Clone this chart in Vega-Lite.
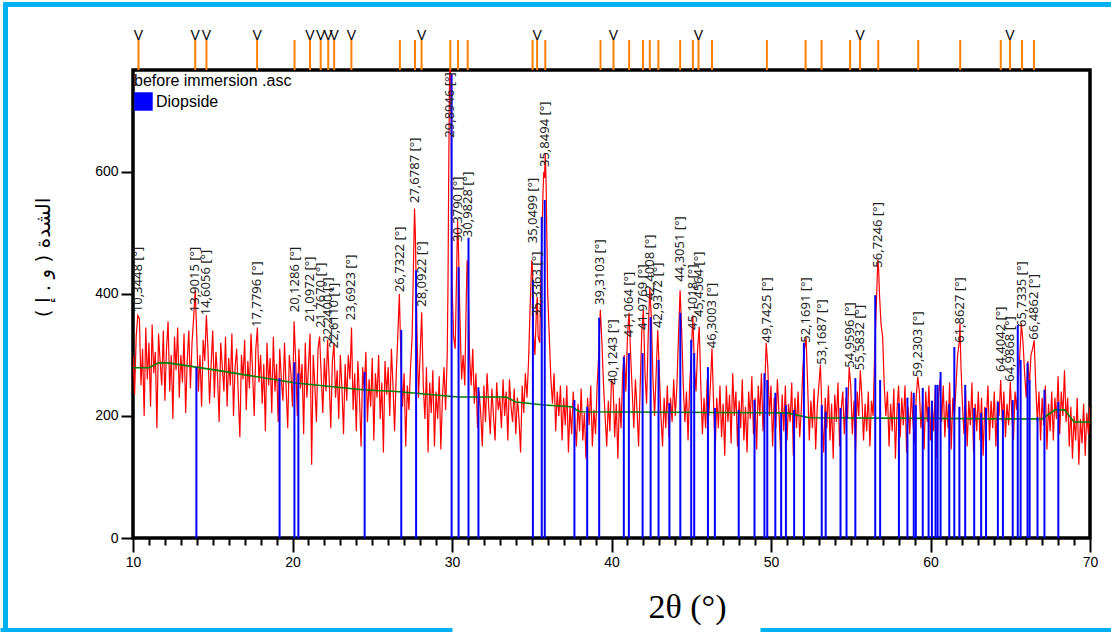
{
"$schema": "https://vega.github.io/schema/vega-lite/v6.json",
"autosize": {"type": "none"},
"padding": {"left": 133, "top": 70, "right": 21, "bottom": 94},
"background": "#ffffff",
"width": 957, "height": 468,
"config": {"view": {"stroke": "#000000", "strokeWidth": 3.5}},
"resolve": {"scale": {"x": "independent", "y": "independent"}},
"datasets": {
"frame": [{"f": 0}, {"f": 1}],
"bg": [{"t":10,"i":279},{"t":11,"i":279},{"t":11.6,"i":287},{"t":12.2,"i":287},{"t":15,"i":276},{"t":20.2,"i":254},{"t":24.4,"i":243},{"t":26.5,"i":240},{"t":30.4,"i":231},{"t":33.4,"i":231},{"t":34,"i":223},{"t":35.8,"i":218},{"t":37.5,"i":215},{"t":38,"i":207},{"t":51,"i":205},{"t":52.4,"i":197},{"t":67,"i":195},{"t":67.8,"i":210},{"t":68.4,"i":210},{"t":69,"i":190},{"t":70,"i":190}],
"sticks": [{"t":13.70,"i":280,"ph":"Diopside"},{"t":18.97,"i":262,"ph":"Diopside"},{"t":19.91,"i":288,"ph":"Diopside"},{"t":20.16,"i":270,"ph":"Diopside"},{"t":24.36,"i":272,"ph":"Diopside"},{"t":26.68,"i":341,"ph":"Diopside"},{"t":27.62,"i":439,"ph":"Diopside"},{"t":29.87,"i":760,"ph":"Diopside"},{"t":30.31,"i":444,"ph":"Diopside"},{"t":30.94,"i":492,"ph":"Diopside"},{"t":31.57,"i":247,"ph":"Diopside"},{"t":35.02,"i":423,"ph":"Diopside"},{"t":35.58,"i":526,"ph":"Diopside"},{"t":35.77,"i":554,"ph":"Diopside"},{"t":37.65,"i":226,"ph":"Diopside"},{"t":38.46,"i":215,"ph":"Diopside"},{"t":39.22,"i":361,"ph":"Diopside"},{"t":40.78,"i":297,"ph":"Diopside"},{"t":41.10,"i":303,"ph":"Diopside"},{"t":41.97,"i":303,"ph":"Diopside"},{"t":42.48,"i":362,"ph":"Diopside"},{"t":42.98,"i":292,"ph":"Diopside"},{"t":43.67,"i":221,"ph":"Diopside"},{"t":44.36,"i":369,"ph":"Diopside"},{"t":45.05,"i":325,"ph":"Diopside"},{"t":45.24,"i":303,"ph":"Diopside"},{"t":46.11,"i":280,"ph":"Diopside"},{"t":46.55,"i":213,"ph":"Diopside"},{"t":48.06,"i":210,"ph":"Diopside"},{"t":49.06,"i":226,"ph":"Diopside"},{"t":49.69,"i":270,"ph":"Diopside"},{"t":49.87,"i":259,"ph":"Diopside"},{"t":50.38,"i":238,"ph":"Diopside"},{"t":50.75,"i":205,"ph":"Diopside"},{"t":51.05,"i":218,"ph":"Diopside"},{"t":51.57,"i":210,"ph":"Diopside"},{"t":52.19,"i":320,"ph":"Diopside"},{"t":53.32,"i":218,"ph":"Diopside"},{"t":53.57,"i":207,"ph":"Diopside"},{"t":54.51,"i":213,"ph":"Diopside"},{"t":54.89,"i":247,"ph":"Diopside"},{"t":55.45,"i":262,"ph":"Diopside"},{"t":56.71,"i":398,"ph":"Diopside"},{"t":57.02,"i":259,"ph":"Diopside"},{"t":58.21,"i":221,"ph":"Diopside"},{"t":58.75,"i":230,"ph":"Diopside"},{"t":59.15,"i":238,"ph":"Diopside"},{"t":59.28,"i":218,"ph":"Diopside"},{"t":59.72,"i":246,"ph":"Diopside"},{"t":60.09,"i":215,"ph":"Diopside"},{"t":60.30,"i":225,"ph":"Diopside"},{"t":60.53,"i":251,"ph":"Diopside"},{"t":60.66,"i":251,"ph":"Diopside"},{"t":60.85,"i":272,"ph":"Diopside"},{"t":61.40,"i":220,"ph":"Diopside"},{"t":61.72,"i":313,"ph":"Diopside"},{"t":62.04,"i":215,"ph":"Diopside"},{"t":62.41,"i":251,"ph":"Diopside"},{"t":62.98,"i":213,"ph":"Diopside"},{"t":63.42,"i":205,"ph":"Diopside"},{"t":63.73,"i":213,"ph":"Diopside"},{"t":64.48,"i":223,"ph":"Diopside"},{"t":64.80,"i":210,"ph":"Diopside"},{"t":65.42,"i":226,"ph":"Diopside"},{"t":65.74,"i":349,"ph":"Diopside"},{"t":65.92,"i":292,"ph":"Diopside"},{"t":66.36,"i":287,"ph":"Diopside"},{"t":66.49,"i":259,"ph":"Diopside"},{"t":66.99,"i":198,"ph":"Diopside"},{"t":67.43,"i":243,"ph":"Diopside"},{"t":68.31,"i":223,"ph":"Diopside"}],
"peaks": [{"t":10.3448,"i":370,"lab":"10,3448 [°]","v":1},{"t":13.9015,"i":370,"lab":"13,9015 [°]","v":1},{"t":14.6056,"i":365,"lab":"14,6056 [°]","v":1},{"t":17.7796,"i":346,"lab":"17,7796 [°]","v":1},{"t":20.1286,"i":370,"lab":"20,1286 [°]","v":0},{"t":21.0972,"i":354,"lab":"21,0972 [°]","v":1},{"t":21.7670,"i":344,"lab":"21,7670 [°]","v":1},{"t":22.2400,"i":320,"lab":"22,2400 [°]","v":1},{"t":22.6110,"i":311,"lab":"22,6110 [°]","v":1},{"t":23.6923,"i":357,"lab":"23,6923 [°]","v":1},{"t":26.7322,"i":403,"lab":"26,7322 [°]","v":0},{"t":27.6787,"i":549,"lab":"27,6787 [°]","v":0},{"t":28.0922,"i":379,"lab":"28,0922 [°]","v":1},{"t":29.8946,"i":656,"lab":"29,8946 [°]","v":0},{"t":30.3790,"i":485,"lab":"30,3790 [°]","v":0},{"t":30.9828,"i":493,"lab":"30,9828 [°]","v":0},{"t":35.0499,"i":483,"lab":"35,0499 [°]","v":0},{"t":35.3363,"i":362,"lab":"35,3363 [°]","v":1},{"t":35.8494,"i":608,"lab":"35,8494 [°]","v":0},{"t":39.3103,"i":382,"lab":"39,3103 [°]","v":0},{"t":40.1243,"i":251,"lab":"40,1243 [°]","v":1},{"t":41.1064,"i":329,"lab":"41,1064 [°]","v":0},{"t":41.9769,"i":341,"lab":"41,9769 [°]","v":0},{"t":42.4008,"i":390,"lab":"42,4008 [°]","v":0},{"t":42.9372,"i":344,"lab":"42,9372 [°]","v":0},{"t":44.3051,"i":420,"lab":"44,3051 [°]","v":0},{"t":45.1018,"i":341,"lab":"45,1018 [°]","v":0},{"t":45.4564,"i":362,"lab":"45,4564 [°]","v":1},{"t":46.3003,"i":311,"lab":"46,3003 [°]","v":0},{"t":49.7425,"i":320,"lab":"49,7425 [°]","v":0},{"t":52.1691,"i":320,"lab":"52,1691 [°]","v":0},{"t":53.1687,"i":284,"lab":"53,1687 [°]","v":0},{"t":54.9596,"i":279,"lab":"54,9596 [°]","v":0},{"t":55.5832,"i":275,"lab":"55,5832 [°]","v":1},{"t":56.7246,"i":443,"lab":"56,7246 [°]","v":0},{"t":59.2303,"i":264,"lab":"59,2303 [°]","v":0},{"t":61.8627,"i":320,"lab":"61,8627 [°]","v":0},{"t":64.4042,"i":272,"lab":"64,4042 [°]","v":0},{"t":64.9868,"i":256,"lab":"64,9868 [°]","v":1},{"t":65.7335,"i":346,"lab":"65,7335 [°]","v":0},{"t":66.4862,"i":325,"lab":"66,4862 [°]","v":0}],
"red": [
{"t":10.0,"i":300},{"t":10.1,"i":235},{"t":10.2,"i":330},{"t":10.3,"i":365},{"t":10.4,"i":360},{"t":10.5,"i":250},{"t":10.6,"i":310},{"t":10.7,"i":200},{"t":10.8,"i":345},{"t":10.9,"i":260},
{"t":11.0,"i":320},{"t":11.1,"i":215},{"t":11.2,"i":350},{"t":11.3,"i":270},{"t":11.4,"i":305},{"t":11.5,"i":180},{"t":11.6,"i":335},{"t":11.7,"i":290},{"t":11.8,"i":250},{"t":11.9,"i":340},
{"t":12.0,"i":225},{"t":12.1,"i":310},{"t":12.2,"i":355},{"t":12.3,"i":240},{"t":12.4,"i":300},{"t":12.5,"i":195},{"t":12.6,"i":330},{"t":12.7,"i":275},{"t":12.8,"i":345},{"t":12.9,"i":230},
{"t":13.0,"i":300},{"t":13.1,"i":255},{"t":13.2,"i":335},{"t":13.3,"i":205},{"t":13.4,"i":290},{"t":13.5,"i":340},{"t":13.6,"i":245},{"t":13.7,"i":320},{"t":13.8,"i":360},{"t":13.9,"i":406},
{"t":14.0,"i":330},{"t":14.1,"i":240},{"t":14.2,"i":300},{"t":14.3,"i":215},{"t":14.4,"i":325},{"t":14.5,"i":290},{"t":14.6,"i":365},{"t":14.7,"i":310},{"t":14.8,"i":220},{"t":14.9,"i":285},
{"t":15.0,"i":340},{"t":15.1,"i":230},{"t":15.2,"i":305},{"t":15.3,"i":265},{"t":15.4,"i":190},{"t":15.5,"i":320},{"t":15.6,"i":280},{"t":15.7,"i":240},{"t":15.8,"i":330},{"t":15.9,"i":215},
{"t":16.0,"i":295},{"t":16.1,"i":250},{"t":16.2,"i":335},{"t":16.3,"i":200},{"t":16.4,"i":280},{"t":16.5,"i":310},{"t":16.6,"i":235},{"t":16.7,"i":165},{"t":16.8,"i":300},{"t":16.9,"i":260},
{"t":17.0,"i":325},{"t":17.1,"i":210},{"t":17.2,"i":290},{"t":17.3,"i":245},{"t":17.4,"i":335},{"t":17.5,"i":270},{"t":17.6,"i":200},{"t":17.7,"i":310},{"t":17.8,"i":345},{"t":17.9,"i":255},
{"t":18.0,"i":300},{"t":18.1,"i":220},{"t":18.2,"i":285},{"t":18.3,"i":175},{"t":18.4,"i":320},{"t":18.5,"i":250},{"t":18.6,"i":295},{"t":18.7,"i":205},{"t":18.8,"i":330},{"t":18.9,"i":240},
{"t":19.0,"i":285},{"t":19.1,"i":190},{"t":19.2,"i":310},{"t":19.3,"i":260},{"t":19.4,"i":225},{"t":19.5,"i":320},{"t":19.6,"i":245},{"t":19.7,"i":180},{"t":19.8,"i":300},{"t":19.9,"i":270},
{"t":20.0,"i":215},{"t":20.1,"i":355},{"t":20.2,"i":290},{"t":20.3,"i":200},{"t":20.4,"i":310},{"t":20.5,"i":245},{"t":20.6,"i":285},{"t":20.7,"i":170},{"t":20.8,"i":320},{"t":20.9,"i":230},
{"t":21.0,"i":280},{"t":21.1,"i":335},{"t":21.2,"i":120},{"t":21.3,"i":300},{"t":21.4,"i":250},{"t":21.5,"i":190},{"t":21.6,"i":310},{"t":21.7,"i":330},{"t":21.8,"i":265},{"t":21.9,"i":205},
{"t":22.0,"i":295},{"t":22.1,"i":240},{"t":22.2,"i":325},{"t":22.3,"i":260},{"t":22.4,"i":180},{"t":22.5,"i":290},{"t":22.6,"i":320},{"t":22.7,"i":230},{"t":22.8,"i":275},{"t":22.9,"i":195},
{"t":23.0,"i":300},{"t":23.1,"i":245},{"t":23.2,"i":170},{"t":23.3,"i":285},{"t":23.4,"i":225},{"t":23.5,"i":300},{"t":23.6,"i":260},{"t":23.7,"i":345},{"t":23.8,"i":210},{"t":23.9,"i":270},
{"t":24.0,"i":175},{"t":24.1,"i":290},{"t":24.2,"i":230},{"t":24.3,"i":150},{"t":24.4,"i":280},{"t":24.5,"i":240},{"t":24.6,"i":305},{"t":24.7,"i":190},{"t":24.8,"i":260},{"t":24.9,"i":215},
{"t":25.0,"i":295},{"t":25.1,"i":160},{"t":25.2,"i":270},{"t":25.3,"i":230},{"t":25.4,"i":300},{"t":25.5,"i":195},{"t":25.6,"i":255},{"t":25.7,"i":140},{"t":25.8,"i":290},{"t":25.9,"i":235},
{"t":26.0,"i":280},{"t":26.1,"i":200},{"t":26.2,"i":310},{"t":26.3,"i":250},{"t":26.4,"i":175},{"t":26.5,"i":265},{"t":26.6,"i":330},{"t":26.7,"i":400},{"t":26.8,"i":290},{"t":26.9,"i":215},
{"t":27.0,"i":270},{"t":27.1,"i":150},{"t":27.2,"i":250},{"t":27.3,"i":210},{"t":27.4,"i":280},{"t":27.5,"i":330},{"t":27.6,"i":470},{"t":27.65,"i":540},{"t":27.7,"i":500},{"t":27.8,"i":340},{"t":27.9,"i":230},
{"t":28.0,"i":300},{"t":28.1,"i":370},{"t":28.2,"i":250},{"t":28.3,"i":195},{"t":28.4,"i":280},{"t":28.5,"i":140},{"t":28.6,"i":255},{"t":28.7,"i":205},{"t":28.8,"i":275},{"t":28.9,"i":150},
{"t":29.0,"i":240},{"t":29.1,"i":195},{"t":29.2,"i":265},{"t":29.3,"i":145},{"t":29.4,"i":230},{"t":29.5,"i":280},{"t":29.6,"i":210},{"t":29.7,"i":300},{"t":29.75,"i":420},{"t":29.8,"i":620},{"t":29.85,"i":770},{"t":29.9,"i":770},{"t":29.95,"i":680},
{"t":30.0,"i":420},{"t":30.1,"i":330},{"t":30.2,"i":310},{"t":30.3,"i":450},{"t":30.35,"i":520},{"t":30.4,"i":480},{"t":30.5,"i":360},{"t":30.6,"i":260},{"t":30.7,"i":300},{"t":30.8,"i":250},{"t":30.9,"i":400},{"t":30.95,"i":455},
{"t":31.0,"i":440},{"t":31.1,"i":300},{"t":31.2,"i":250},{"t":31.3,"i":310},{"t":31.4,"i":220},{"t":31.5,"i":270},{"t":31.6,"i":180},{"t":31.7,"i":240},{"t":31.8,"i":205},{"t":31.9,"i":150},
{"t":32.0,"i":250},{"t":32.1,"i":190},{"t":32.2,"i":270},{"t":32.3,"i":215},{"t":32.4,"i":170},{"t":32.5,"i":245},{"t":32.6,"i":200},{"t":32.7,"i":160},{"t":32.8,"i":255},{"t":32.9,"i":210},
{"t":33.0,"i":230},{"t":33.1,"i":180},{"t":33.2,"i":260},{"t":33.3,"i":200},{"t":33.4,"i":240},{"t":33.5,"i":160},{"t":33.6,"i":260},{"t":33.7,"i":215},{"t":33.8,"i":190},{"t":33.9,"i":245},
{"t":34.0,"i":170},{"t":34.1,"i":230},{"t":34.2,"i":195},{"t":34.3,"i":140},{"t":34.4,"i":250},{"t":34.5,"i":205},{"t":34.6,"i":270},{"t":34.7,"i":230},{"t":34.8,"i":290},{"t":34.9,"i":380},
{"t":35.0,"i":455},{"t":35.05,"i":440},{"t":35.1,"i":340},{"t":35.2,"i":300},{"t":35.3,"i":380},{"t":35.35,"i":395},{"t":35.4,"i":330},{"t":35.5,"i":320},{"t":35.6,"i":460},{"t":35.7,"i":560},{"t":35.75,"i":600},{"t":35.8,"i":590},{"t":35.85,"i":630},{"t":35.9,"i":580},
{"t":36.0,"i":400},{"t":36.1,"i":330},{"t":36.2,"i":260},{"t":36.3,"i":220},{"t":36.4,"i":270},{"t":36.5,"i":175},{"t":36.6,"i":240},{"t":36.7,"i":200},{"t":36.8,"i":250},{"t":36.9,"i":160},
{"t":37.0,"i":230},{"t":37.1,"i":185},{"t":37.2,"i":250},{"t":37.3,"i":140},{"t":37.4,"i":215},{"t":37.5,"i":170},{"t":37.6,"i":240},{"t":37.7,"i":195},{"t":37.8,"i":150},{"t":37.9,"i":220},
{"t":38.0,"i":175},{"t":38.1,"i":245},{"t":38.2,"i":160},{"t":38.3,"i":205},{"t":38.4,"i":130},{"t":38.5,"i":230},{"t":38.6,"i":185},{"t":38.7,"i":250},{"t":38.8,"i":150},{"t":38.9,"i":210},
{"t":39.0,"i":170},{"t":39.1,"i":250},{"t":39.2,"i":300},{"t":39.3,"i":374},{"t":39.4,"i":320},{"t":39.5,"i":250},{"t":39.6,"i":200},{"t":39.7,"i":150},{"t":39.8,"i":225},{"t":39.9,"i":175},
{"t":40.0,"i":260},{"t":40.1,"i":250},{"t":40.2,"i":165},{"t":40.3,"i":220},{"t":40.4,"i":130},{"t":40.5,"i":230},{"t":40.6,"i":180},{"t":40.7,"i":270},{"t":40.8,"i":300},{"t":40.9,"i":240},
{"t":41.0,"i":330},{"t":41.1,"i":369},{"t":41.2,"i":300},{"t":41.3,"i":240},{"t":41.4,"i":180},{"t":41.5,"i":260},{"t":41.6,"i":210},{"t":41.7,"i":150},{"t":41.8,"i":250},{"t":41.9,"i":340},
{"t":42.0,"i":374},{"t":42.1,"i":270},{"t":42.2,"i":220},{"t":42.3,"i":330},{"t":42.4,"i":411},{"t":42.5,"i":360},{"t":42.6,"i":260},{"t":42.7,"i":200},{"t":42.8,"i":270},{"t":42.9,"i":341},
{"t":43.0,"i":270},{"t":43.1,"i":200},{"t":43.2,"i":150},{"t":43.3,"i":230},{"t":43.4,"i":180},{"t":43.5,"i":250},{"t":43.6,"i":165},{"t":43.7,"i":230},{"t":43.8,"i":190},{"t":43.9,"i":260},
{"t":44.0,"i":200},{"t":44.1,"i":250},{"t":44.2,"i":330},{"t":44.3,"i":406},{"t":44.4,"i":340},{"t":44.5,"i":250},{"t":44.6,"i":190},{"t":44.7,"i":240},{"t":44.8,"i":160},{"t":44.9,"i":250},
{"t":45.0,"i":300},{"t":45.1,"i":365},{"t":45.2,"i":280},{"t":45.3,"i":240},{"t":45.4,"i":310},{"t":45.5,"i":346},{"t":45.6,"i":250},{"t":45.7,"i":170},{"t":45.8,"i":230},{"t":45.9,"i":180},
{"t":46.0,"i":260},{"t":46.1,"i":200},{"t":46.2,"i":250},{"t":46.3,"i":311},{"t":46.4,"i":220},{"t":46.5,"i":140},{"t":46.6,"i":230},{"t":46.7,"i":180},{"t":46.8,"i":250},{"t":46.9,"i":165},
{"t":47.0,"i":220},{"t":47.1,"i":135},{"t":47.2,"i":250},{"t":47.3,"i":190},{"t":47.4,"i":235},{"t":47.5,"i":155},{"t":47.6,"i":270},{"t":47.7,"i":200},{"t":47.8,"i":240},{"t":47.9,"i":150},
{"t":48.0,"i":225},{"t":48.1,"i":180},{"t":48.2,"i":260},{"t":48.3,"i":160},{"t":48.4,"i":215},{"t":48.5,"i":140},{"t":48.6,"i":240},{"t":48.7,"i":195},{"t":48.8,"i":265},{"t":48.9,"i":170},
{"t":49.0,"i":230},{"t":49.1,"i":145},{"t":49.2,"i":250},{"t":49.3,"i":200},{"t":49.4,"i":270},{"t":49.5,"i":175},{"t":49.6,"i":240},{"t":49.7,"i":320},{"t":49.8,"i":280},{"t":49.9,"i":200},
{"t":50.0,"i":250},{"t":50.1,"i":150},{"t":50.2,"i":230},{"t":50.3,"i":180},{"t":50.4,"i":260},{"t":50.5,"i":205},{"t":50.6,"i":140},{"t":50.7,"i":235},{"t":50.8,"i":175},{"t":50.9,"i":250},
{"t":51.0,"i":160},{"t":51.1,"i":220},{"t":51.2,"i":190},{"t":51.3,"i":255},{"t":51.4,"i":135},{"t":51.5,"i":230},{"t":51.6,"i":180},{"t":51.7,"i":240},{"t":51.8,"i":165},{"t":51.9,"i":210},
{"t":52.0,"i":280},{"t":52.1,"i":310},{"t":52.2,"i":328},{"t":52.3,"i":250},{"t":52.4,"i":160},{"t":52.5,"i":225},{"t":52.6,"i":180},{"t":52.7,"i":245},{"t":52.8,"i":145},{"t":52.9,"i":215},
{"t":53.0,"i":250},{"t":53.1,"i":284},{"t":53.2,"i":200},{"t":53.3,"i":140},{"t":53.4,"i":230},{"t":53.5,"i":180},{"t":53.6,"i":250},{"t":53.7,"i":160},{"t":53.8,"i":220},{"t":53.9,"i":130},
{"t":54.0,"i":235},{"t":54.1,"i":190},{"t":54.2,"i":255},{"t":54.3,"i":150},{"t":54.4,"i":210},{"t":54.5,"i":240},{"t":54.6,"i":170},{"t":54.7,"i":230},{"t":54.8,"i":195},{"t":54.9,"i":280},
{"t":55.0,"i":250},{"t":55.1,"i":170},{"t":55.2,"i":225},{"t":55.3,"i":140},{"t":55.4,"i":240},{"t":55.5,"i":200},{"t":55.6,"i":275},{"t":55.7,"i":230},{"t":55.8,"i":160},{"t":55.9,"i":220},
{"t":56.0,"i":175},{"t":56.1,"i":240},{"t":56.2,"i":150},{"t":56.3,"i":225},{"t":56.4,"i":200},{"t":56.5,"i":300},{"t":56.6,"i":380},{"t":56.7,"i":456},{"t":56.75,"i":440},{"t":56.8,"i":400},{"t":56.9,"i":350},
{"t":57.0,"i":330},{"t":57.1,"i":250},{"t":57.2,"i":200},{"t":57.3,"i":240},{"t":57.4,"i":150},{"t":57.5,"i":220},{"t":57.6,"i":175},{"t":57.7,"i":245},{"t":57.8,"i":130},{"t":57.9,"i":210},
{"t":58.0,"i":250},{"t":58.1,"i":165},{"t":58.2,"i":230},{"t":58.3,"i":185},{"t":58.4,"i":250},{"t":58.5,"i":140},{"t":58.6,"i":215},{"t":58.7,"i":170},{"t":58.8,"i":240},{"t":58.9,"i":190},
{"t":59.0,"i":155},{"t":59.1,"i":230},{"t":59.2,"i":264},{"t":59.3,"i":240},{"t":59.4,"i":180},{"t":59.5,"i":225},{"t":59.6,"i":145},{"t":59.7,"i":240},{"t":59.8,"i":190},{"t":59.9,"i":250},
{"t":60.0,"i":160},{"t":60.1,"i":225},{"t":60.2,"i":175},{"t":60.3,"i":245},{"t":60.4,"i":130},{"t":60.5,"i":230},{"t":60.6,"i":260},{"t":60.7,"i":190},{"t":60.8,"i":250},{"t":60.9,"i":165},
{"t":61.0,"i":225},{"t":61.1,"i":180},{"t":61.2,"i":255},{"t":61.3,"i":145},{"t":61.4,"i":230},{"t":61.5,"i":200},{"t":61.6,"i":250},{"t":61.7,"i":300},{"t":61.8,"i":320},{"t":61.85,"i":352},{"t":61.9,"i":290},
{"t":62.0,"i":220},{"t":62.1,"i":170},{"t":62.2,"i":240},{"t":62.3,"i":150},{"t":62.4,"i":225},{"t":62.5,"i":185},{"t":62.6,"i":255},{"t":62.7,"i":140},{"t":62.8,"i":220},{"t":62.9,"i":175},
{"t":63.0,"i":240},{"t":63.1,"i":160},{"t":63.2,"i":230},{"t":63.3,"i":135},{"t":63.4,"i":215},{"t":63.5,"i":190},{"t":63.6,"i":250},{"t":63.7,"i":160},{"t":63.8,"i":225},{"t":63.9,"i":180},
{"t":64.0,"i":240},{"t":64.1,"i":150},{"t":64.2,"i":225},{"t":64.3,"i":200},{"t":64.4,"i":259},{"t":64.5,"i":190},{"t":64.6,"i":240},{"t":64.7,"i":165},{"t":64.8,"i":220},{"t":64.9,"i":185},
{"t":65.0,"i":256},{"t":65.1,"i":200},{"t":65.2,"i":160},{"t":65.3,"i":240},{"t":65.4,"i":210},{"t":65.5,"i":260},{"t":65.6,"i":300},{"t":65.7,"i":352},{"t":65.8,"i":320},{"t":65.9,"i":270},
{"t":66.0,"i":230},{"t":66.1,"i":290},{"t":66.2,"i":250},{"t":66.3,"i":300},{"t":66.4,"i":310},{"t":66.5,"i":324},{"t":66.6,"i":250},{"t":66.7,"i":190},{"t":66.8,"i":240},{"t":66.9,"i":160},
{"t":67.0,"i":230},{"t":67.1,"i":185},{"t":67.2,"i":250},{"t":67.3,"i":145},{"t":67.4,"i":220},{"t":67.5,"i":175},{"t":67.6,"i":240},{"t":67.7,"i":160},{"t":67.8,"i":230},{"t":67.9,"i":195},
{"t":68.0,"i":265},{"t":68.1,"i":170},{"t":68.2,"i":240},{"t":68.3,"i":200},{"t":68.4,"i":275},{"t":68.5,"i":190},{"t":68.6,"i":230},{"t":68.7,"i":150},{"t":68.8,"i":215},{"t":68.9,"i":130},
{"t":69.0,"i":200},{"t":69.1,"i":160},{"t":69.2,"i":230},{"t":69.3,"i":120},{"t":69.4,"i":195},{"t":69.5,"i":155},{"t":69.6,"i":220},{"t":69.7,"i":135},{"t":69.8,"i":205},{"t":69.9,"i":170},{"t":70.0,"i":215}
]
},
"layer": [
{"data": {"name": "red"}, "mark": {"type": "line", "color": "#ff0000", "strokeWidth": 1.2, "clip": true},
 "encoding": {
 "x": {"field": "t", "type": "quantitative",
   "scale": {"domain": [10, 70], "nice": false, "zero": false},
   "axis": {"values": [10,11,12,13,14,15,16,17,18,19,20,21,22,23,24,25,26,27,28,29,30,31,32,33,34,35,36,37,38,39,40,41,42,43,44,45,46,47,48,49,50,51,52,53,54,55,56,57,58,59,60,61,62,63,64,65,66,67,68,69,70],
     "labelExpr": "datum.value % 10 === 0 ? datum.label : ''",
     "tickSize": {"condition": {"test": "datum.value % 10 === 0", "value": 14}, "value": 7},
     "tickWidth": 2, "tickColor": "#000000", "domain": false, "grid": false,
     "labelFont": "Liberation Sans", "labelFontSize": 14, "labelColor": "#000000", "labelPadding": 3,
     "labelOverlap": false, "labelFlush": false,
     "title": "2θ (°)", "titleFont": "Liberation Serif", "titleFontSize": 34, "titleFontWeight": "normal", "titleColor": "#000000",
     "titleX": 554, "titleY": 79, "titleAlign": "center", "titleBaseline": "alphabetic"}},
 "y": {"field": "i", "type": "quantitative",
   "scale": {"domain": [0, 767], "nice": false, "zero": true},
   "axis": {"values": [0, 200, 400, 600], "tickSize": 12, "tickWidth": 2, "tickColor": "#000000", "domain": false, "grid": false,
     "labelFont": "Liberation Sans", "labelFontSize": 14, "labelColor": "#000000", "labelPadding": 3,
     "title": "الشدة ( و . إ )‏", "titleFont": "DejaVu Sans", "titleFontSize": 20, "titleFontWeight": "normal", "titleColor": "#000000",
     "titleAngle": 270, "titleX": -90, "titleY": 187, "titleAlign": "center", "titleBaseline": "middle"}}}},
{"data": {"name": "bg"}, "mark": {"type": "line", "color": "#008000", "strokeWidth": 1.6},
 "encoding": {
 "x": {"field": "t", "type": "quantitative", "scale": {"domain": [10, 70], "nice": false, "zero": false}, "axis": null},
 "y": {"field": "i", "type": "quantitative", "scale": {"domain": [0, 767], "nice": false, "zero": true}, "axis": null}}},
{"data": {"name": "sticks"}, "mark": {"type": "bar", "width": 2},
 "encoding": {
 "x": {"field": "t", "type": "quantitative", "scale": {"domain": [10, 70], "nice": false, "zero": false}, "axis": null},
 "y": {"field": "i", "type": "quantitative", "scale": {"domain": [0, 767], "nice": false, "zero": true}, "axis": null},
 "color": {"field": "ph", "type": "nominal", "scale": {"range": ["#0000ff"]},
    "legend": {"title": "before immersion .asc", "orient": "none", "legendX": 1, "legendY": 3, "padding": 0,
      "titleFont": "Liberation Sans", "titleFontSize": 16, "titleFontWeight": "normal", "titleColor": "#000000", "titlePadding": 3,
      "labelFont": "Liberation Sans", "labelFontSize": 16, "labelColor": "#000000", "labelOffset": 3,
      "symbolType": "square", "symbolSize": 340, "symbolStrokeWidth": 0}}}},
{"data": {"name": "peaks"}, "mark": {"type": "text", "angle": 270, "align": "left", "baseline": "middle", "font": "Noto Sans", "fontSize": 13, "color": "#222222"},
 "encoding": {
 "x": {"field": "t", "type": "quantitative", "scale": {"domain": [10, 70], "nice": false, "zero": false}, "axis": null},
 "y": {"field": "i", "type": "quantitative", "scale": {"domain": [0, 767], "nice": false, "zero": true}, "axis": null},
 "text": {"field": "lab", "type": "nominal"}}},
{"data": {"name": "peaks"}, "mark": {"type": "rule", "color": "#ff8000", "strokeWidth": 2},
 "encoding": {
  "x": {"field": "t", "type": "quantitative", "scale": {"domain": [10, 70], "nice": false, "zero": false}, "axis": null},
  "y": {"datum": 0, "type": "quantitative", "scale": {"domain": [0, 42], "range": [0, -42], "nice": false, "zero": false}, "axis": null},
  "y2": {"datum": 30}}},
{"data": {"name": "peaks"}, "transform": [{"filter": "datum.v === 1"}],
 "mark": {"type": "text", "text": "V", "font": "Liberation Sans", "fontSize": 14, "baseline": "alphabetic", "align": "center", "color": "#000000"},
 "encoding": {
  "x": {"field": "t", "type": "quantitative", "scale": {"domain": [10, 70], "nice": false, "zero": false}, "axis": null},
  "y": {"datum": 30, "type": "quantitative", "scale": {"domain": [0, 42], "range": [0, -42], "nice": false, "zero": false}, "axis": null}}},
{"data": {"name": "frame"}, "mark": {"type": "point", "opacity": 0},
 "encoding": {"x": {"field": "f", "type": "quantitative", "scale": {"domain": [0, 1], "range": [-130, 978], "nice": false, "zero": false},
   "axis": {"orient": "top", "offset": 66, "domainColor": "#00b0f0", "domainWidth": 5, "ticks": false, "labels": false, "title": null, "grid": false}}}},
{"data": {"name": "frame"}, "mark": {"type": "point", "opacity": 0},
 "encoding": {"x": {"field": "f", "type": "quantitative", "scale": {"domain": [0, 1], "range": [-133, 319], "nice": false, "zero": false},
   "axis": {"orient": "bottom", "offset": 92, "domainColor": "#00b0f0", "domainWidth": 5, "ticks": false, "labels": false, "title": null, "grid": false}}}},
{"data": {"name": "frame"}, "mark": {"type": "point", "opacity": 0},
 "encoding": {"x": {"field": "f", "type": "quantitative", "scale": {"domain": [0, 1], "range": [627, 978], "nice": false, "zero": false},
   "axis": {"orient": "bottom", "offset": 92, "domainColor": "#00b0f0", "domainWidth": 5, "ticks": false, "labels": false, "title": null, "grid": false}}}},
{"data": {"name": "frame"}, "mark": {"type": "point", "opacity": 0},
 "encoding": {"y": {"field": "f", "type": "quantitative", "scale": {"domain": [0, 1], "range": [562, -68], "nice": false, "zero": false},
   "axis": {"orient": "left", "offset": 128, "domainColor": "#00b0f0", "domainWidth": 5, "ticks": false, "labels": false, "title": null, "grid": false}}}}
]
}
